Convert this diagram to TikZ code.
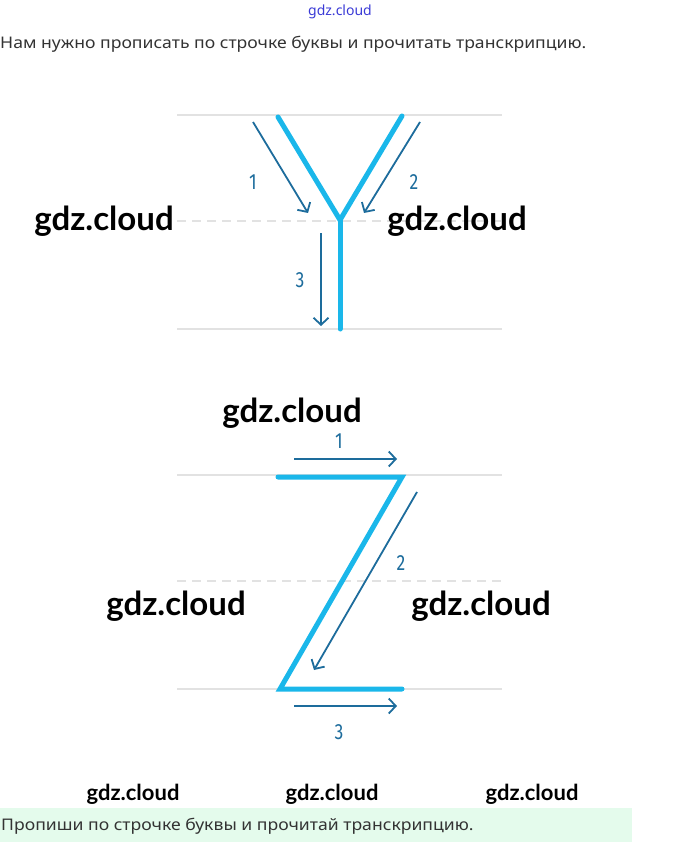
\documentclass[tikz,border=0pt]{standalone}
\usepackage{fontspec}
\setmainfont{Noto Sans}
\newfontfamily\wmfont{Lato}
\newfontfamily\numfont{Fira Sans}
\usetikzlibrary{arrows.meta}
\definecolor{strokeblue}{HTML}{1AB7EA}
\definecolor{arrowblue}{HTML}{1D6C9C}
\definecolor{guidegray}{HTML}{E2E2E2}
\definecolor{notegreen}{HTML}{E4FBEC}
\definecolor{textgray}{HTML}{333333}
\definecolor{markblue}{HTML}{3A3AD6}
\tikzset{
  guide/.style={guidegray, line width=1.5pt},
  midguide/.style={guidegray, line width=1.5pt, dash pattern=on 9pt off 6pt},
  letter/.style={strokeblue, line width=5pt, line cap=round, line join=miter},
  hint/.style={arrowblue, line width=1.8pt, -{Straight Barb[length=7pt,width=15pt]}},
  hintnum/.style={arrowblue, inner sep=0pt, xscale=0.8, font=\numfont\fontsize{22}{22}\selectfont},
  wm/.style={inner sep=0pt, font=\wmfont\bfseries\fontsize{33}{33}\selectfont},
  wmsmall/.style={inner sep=0pt, font=\wmfont\bfseries\fontsize{22}{22}\selectfont},
  task/.style={textgray, anchor=west, inner sep=0pt, xscale=1.1, font=\fontsize{16}{16}\selectfont}
}
\begin{document}
\begin{tikzpicture}[x=1pt, y=-1pt]
	\useasboundingbox (0,0) rectangle (680,842);
	\node [markblue, inner sep=0pt, font=\fontsize{14}{14}\selectfont] (site) at (340,12) {gdz.cloud};
	\node [task] (intro) at (0,44) {Нам нужно прописать по строчке буквы и прочитать транскрипцию.};

	\draw [guide] (177,115) -- (502,115);
	\draw [midguide] (177,221) -- (502,221);
	\draw [guide] (177,329) -- (502,329);
	\coordinate (yl) at (278,117);
	\coordinate (yr) at (402,116);
	\coordinate (yc) at (340,220);
	\coordinate (yb) at (340,329);
	\draw [letter] (yl) -- (yc) -- (yr);
	\draw [letter] (yc) -- (yb);
	\draw [hint] (253,122) -- (308,213);
	\draw [hint] (420,122) -- (364,213);
	\draw [hint] (321,233) -- (321,326);
	\node [hintnum] (ya) at (253,182) {1};
	\node [hintnum] (yb2) at (414,182) {2};
	\node [hintnum] (yc3) at (300,280) {3};
	\node [wm] (wm1) at (104,221) {gdz.cloud};
	\node [wm] (wm2) at (457,221) {gdz.cloud};

	\draw [guide] (177,475) -- (502,475);
	\draw [midguide] (177,581) -- (502,581);
	\draw [guide] (177,689) -- (502,689);
	\coordinate (za) at (278,477);
	\coordinate (zb) at (402,477);
	\coordinate (zc) at (280,689);
	\coordinate (zd) at (402,689);
	\draw [letter] (za) -- (zb) -- (zc) -- (zd);
	\draw [hint] (294,459) -- (397,459);
	\draw [hint] (417,492) -- (314,670);
	\draw [hint] (294,706) -- (397,706);
	\node [hintnum] (za1) at (339,441) {1};
	\node [hintnum] (zb2) at (401,563) {2};
	\node [hintnum] (zc3) at (339,732) {3};
	\node [wm] (wm3) at (292,413) {gdz.cloud};
	\node [wm] (wm4) at (176,606) {gdz.cloud};
	\node [wm] (wm5) at (481,606) {gdz.cloud};

	\node [wmsmall] (wm6) at (133,794) {gdz.cloud};
	\node [wmsmall] (wm7) at (332,794) {gdz.cloud};
	\node [wmsmall] (wm8) at (532,794) {gdz.cloud};
	\fill [notegreen] (0,808) rectangle (632,842);
	\node [task] (note) at (1,826) {Пропиши по строчке буквы и прочитай транскрипцию.};
\end{tikzpicture}
\end{document}
